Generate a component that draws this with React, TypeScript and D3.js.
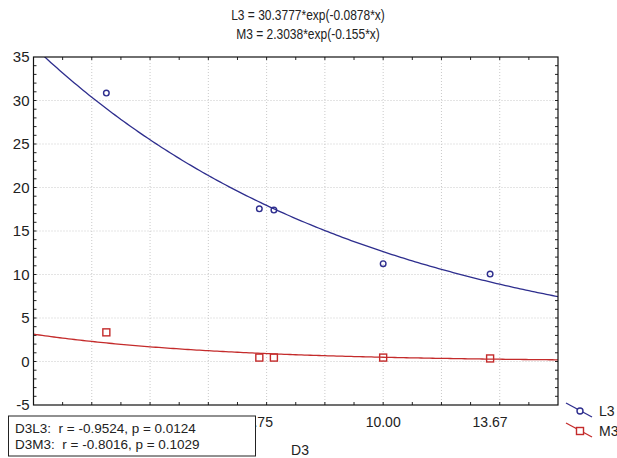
import React from 'react'
import * as d3 from 'd3'

const xValues = [0.5, 5.75, 6.25, 10.0, 13.67]
const l3Values = [30.85, 17.55, 17.4, 11.25, 10.05]
const m3Values = [3.35, 0.45, 0.45, 0.45, 0.35]

// x axis is labelled at the data points; the 0.50 label sits under the stats box
// in the original and 6.25 is dropped because it would overlap 5.75
const xTickValues = [5.75, 10.0, 13.67]
const xTickLabels = ['5.75', '10.00', '13.67']
const yTickValues = [-5, 0, 5, 10, 15, 20, 25, 30, 35]

// exponential fits shown in the title: y = a * exp(b * x)
const fitL3 = [30.3777, -0.0878]
const fitM3 = [2.3038, -0.155]

const titleLines = ['L3 = 30.3777*exp(-0.0878*x)', 'M3 = 2.3038*exp(-0.155*x)']
const statRows = ['D3L3:  r = -0.9524, p = 0.0124', 'D3M3:  r = -0.8016, p = 0.1029']
const seriesNames = ['L3', 'M3']

const W = 617
const H = 458
const FONT = '"Liberation Sans", Arial, sans-serif'
const BLUE = '#2e2e8e'
const RED = '#c42b2b'
const GRID = '#c9c9c9'

export default function App() {
  const margin = { top: 57, right: 59, bottom: 53, left: 33.5 }
  const x = d3.scaleLinear().domain([-2, 16]).range([margin.left, W - margin.right])
  const y = d3.scaleLinear().domain([-5, 35]).range([H - margin.bottom, margin.top])
  const [x0, x1] = x.range()
  const [y0, y1] = y.range()

  // sample positions for drawing the fitted curves
  const xs = d3.range(-2, 16.01, 0.1)
  const curve = (p: number[]) =>
    d3
      .line<number>()
      .x((d) => x(d))
      .y((d) => y(p[0] * Math.exp(p[1] * d)))(xs)

  const gridX = d3.range(0, 16, 2)
  const gridY = d3.range(0, 35, 5)
  const minorX = d3.range(-1, 16, 1)
  const minorY = d3.range(-4, 35, 1)

  return (
    <svg
      width={W}
      height={H}
      style={{ position: 'absolute', left: 0, top: 0, background: '#fff' }}
      fontFamily={FONT}
    >
      <defs>
        <clipPath id="plot-clip">
          <rect x={x0} y={y1} width={x1 - x0} height={y0 - y1} />
        </clipPath>
      </defs>

      {/* title, squeezed a little like the original */}
      {titleLines.map((t, i) => (
        <text
          key={t}
          transform={`translate(308,${19.5 + i * 19}) scale(0.8,1)`}
          textAnchor="middle"
          fontSize={15}
          fill="#222"
        >
          {t}
        </text>
      ))}

      {/* grid */}
      {gridX.map((v) => (
        <line key={'gx' + v} x1={x(v)} x2={x(v)} y1={y1} y2={y0} stroke={GRID} strokeDasharray="1,2" />
      ))}
      {gridY.map((v) => (
        <line key={'gy' + v} x1={x0} x2={x1} y1={y(v)} y2={y(v)} stroke={GRID} strokeDasharray="1,2" />
      ))}

      {/* ticks, all pointing inwards */}
      {minorX.map((v) => (
        <g key={'tx' + v} stroke="#222">
          <line x1={x(v)} x2={x(v)} y1={y0} y2={y0 - 3} />
          <line x1={x(v)} x2={x(v)} y1={y1} y2={y1 + 3} />
        </g>
      ))}
      {minorY.map((v) => (
        <g key={'ty' + v} stroke="#222">
          <line x1={x0} x2={x0 + 3} y1={y(v)} y2={y(v)} />
          <line x1={x1} x2={x1 - 3} y1={y(v)} y2={y(v)} />
        </g>
      ))}

      {/* fitted curves */}
      <g clipPath="url(#plot-clip)" fill="none" strokeWidth={1.3}>
        <path d={curve(fitL3) || ''} stroke={BLUE} />
        <path d={curve(fitM3) || ''} stroke={RED} />
      </g>

      {/* points */}
      {xValues.map((v, i) => (
        <circle key={'l' + i} cx={x(v)} cy={y(l3Values[i])} r={2.8} fill="none" stroke={BLUE} strokeWidth={1.4} />
      ))}
      {xValues.map((v, i) => (
        <rect
          key={'m' + i}
          x={x(v) - 3.5}
          y={y(m3Values[i]) - 3.5}
          width={7}
          height={7}
          fill="none"
          stroke={RED}
          strokeWidth={1.4}
        />
      ))}

      {/* frame */}
      <rect x={x0} y={y1} width={x1 - x0} height={y0 - y1} fill="none" stroke="#111" strokeWidth={1.2} />

      {/* y tick labels */}
      {yTickValues.map((v) => (
        <text key={'yl' + v} x={x0 - 4} y={y(v)} dy="0.35em" textAnchor="end" fontSize={15} fill="#222">
          {v}
        </text>
      ))}

      {/* x tick labels */}
      {xTickValues.map((v, i) => (
        <text key={'xl' + v} x={x(v)} y={427} textAnchor="middle" fontSize={14} fill="#222">
          {xTickLabels[i]}
        </text>
      ))}
      <text x={300} y={455} textAnchor="middle" fontSize={14} fill="#222">
        D3
      </text>

      {/* stats box */}
      <rect x={8.5} y={416} width={247} height={40} fill="#fff" stroke="#222" strokeWidth={1} />
      {statRows.map((t, i) => (
        <text key={t} x={15} y={433 + i * 16} fontSize={13.5} fill="#222" xmlSpace="preserve">
          {t}
        </text>
      ))}

      {/* legend */}
      {seriesNames.map((s, i) => {
        const ly = 410 + i * 20
        const col = i === 0 ? BLUE : RED
        return (
          <g key={s}>
            <line x1={566} y1={ly - 7} x2={592} y2={ly + 7} stroke={col} strokeWidth={1.3} />
            {i === 0 ? (
              <circle cx={580} cy={ly + 1} r={3} fill="#fff" stroke={col} strokeWidth={1.4} />
            ) : (
              <rect x={576.5} y={ly - 2.5} width={7} height={7} fill="#fff" stroke={col} strokeWidth={1.4} />
            )}
            <text x={599} y={ly + 6} fontSize={14} fill="#222">
              {s}
            </text>
          </g>
        )
      })}
    </svg>
  )
}
